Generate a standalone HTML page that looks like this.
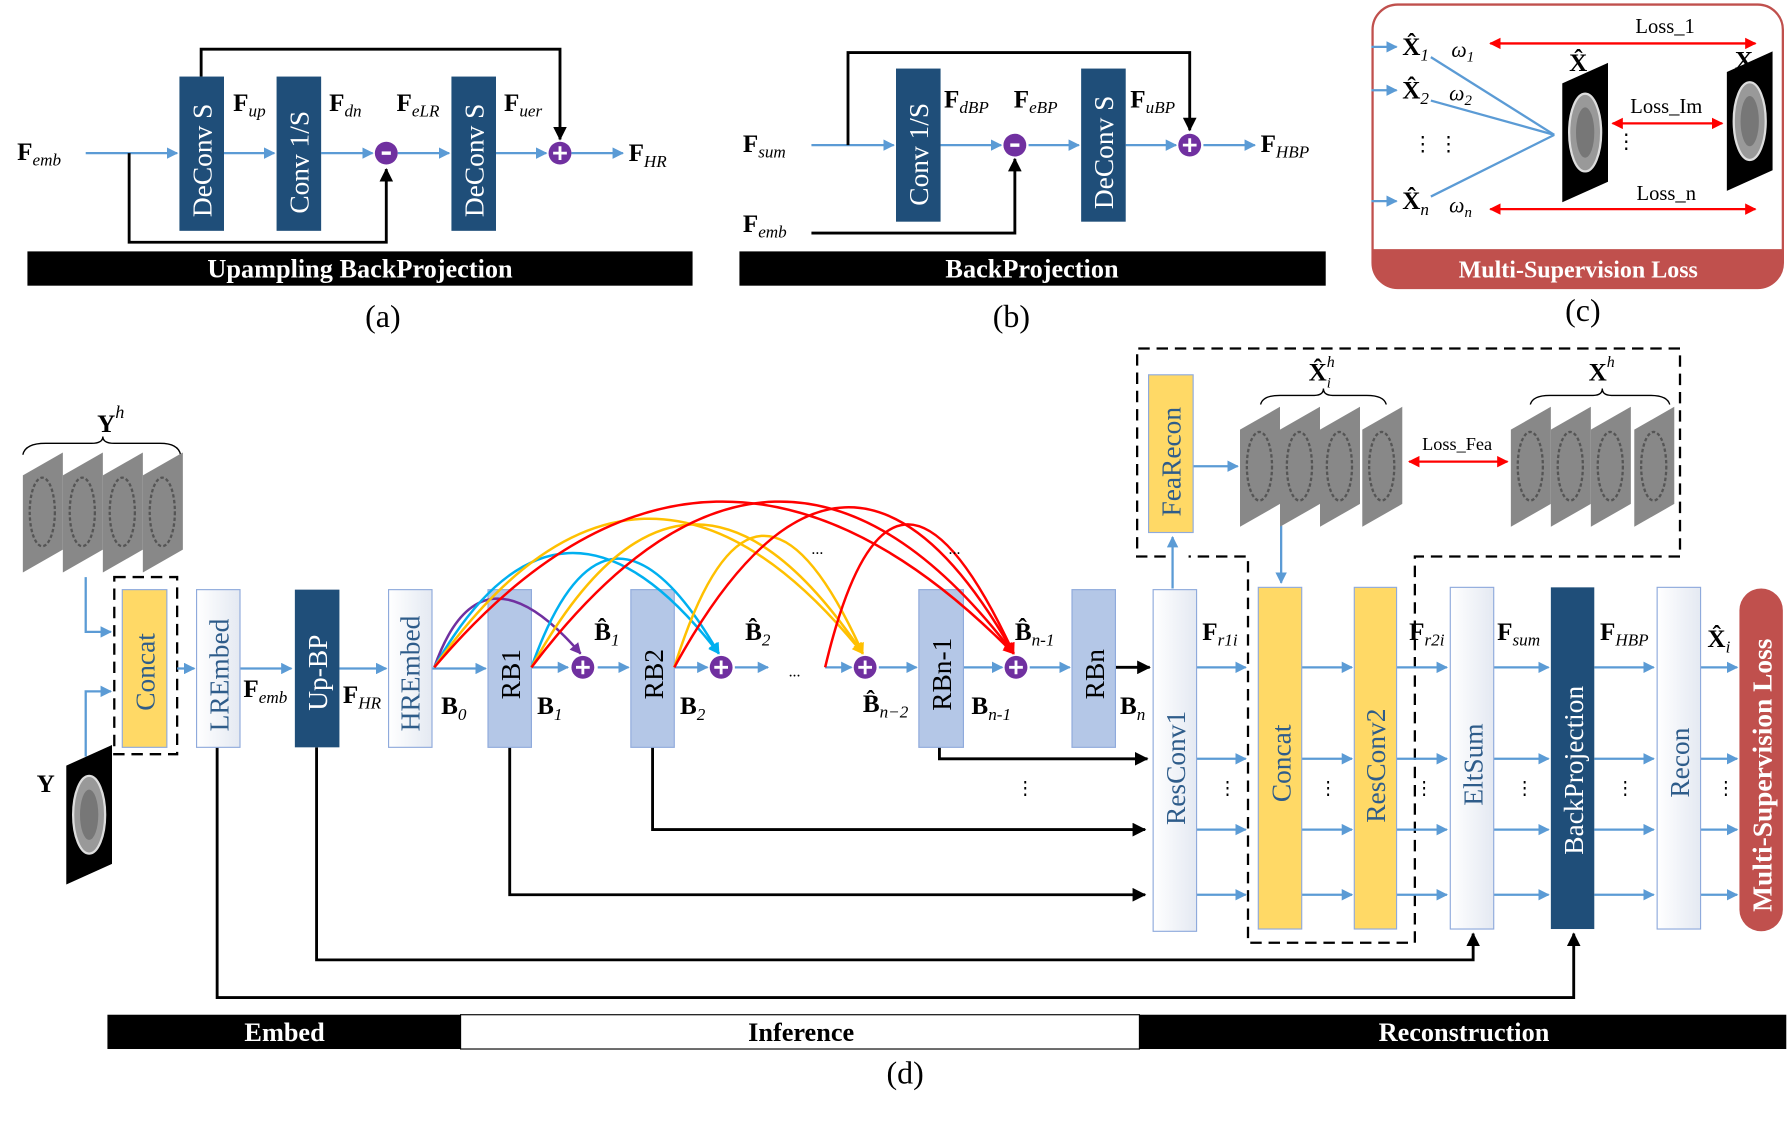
<!DOCTYPE html>
<html><head><meta charset="utf-8"><style>
html,body{margin:0;padding:0;background:#fff}
svg{display:block}
text{font-family:"Liberation Serif",serif}
.b{font-weight:bold}
.lab{font-size:22px;font-weight:bold}
.sub{font-size:15px;font-style:italic;font-weight:normal}
.bx{font-size:24px}
</style></head><body>
<svg width="1792" height="1121" viewBox="0 0 1568 981" preserveAspectRatio="none" xmlns="http://www.w3.org/2000/svg">
<defs>
<marker id="ab" markerWidth="10" markerHeight="10" refX="9" refY="5" orient="auto" markerUnits="userSpaceOnUse"><path d="M0,0L10,5L0,10z" fill="#5b9bd5"/></marker>
<marker id="ak" markerWidth="12" markerHeight="12" refX="11" refY="6" orient="auto" markerUnits="userSpaceOnUse"><path d="M0,0L12,6L0,12z" fill="#000"/></marker>
<marker id="ar" markerWidth="10" markerHeight="10" refX="9" refY="5" orient="auto-start-reverse" markerUnits="userSpaceOnUse"><path d="M0,0L10,5L0,10z" fill="#f00"/></marker>
<marker id="ap" markerWidth="10" markerHeight="10" refX="9" refY="5" orient="auto" markerUnits="userSpaceOnUse"><path d="M0,0L10,5L0,10z" fill="#7030a0"/></marker>
<marker id="ac" markerWidth="10" markerHeight="10" refX="9" refY="5" orient="auto" markerUnits="userSpaceOnUse"><path d="M0,0L10,5L0,10z" fill="#00b0f0"/></marker>
<marker id="ao" markerWidth="10" markerHeight="10" refX="9" refY="5" orient="auto" markerUnits="userSpaceOnUse"><path d="M0,0L10,5L0,10z" fill="#ffc000"/></marker>
<linearGradient id="wg" x1="0" y1="0" x2="1" y2="0"><stop offset="0" stop-color="#fff"/><stop offset="1" stop-color="#e4e9f2"/></linearGradient>
<g id="pl"><circle r="10" fill="#7030a0"/><path d="M-6,0H6M0,-6V6" stroke="#fff" stroke-width="2.5"/></g>
<g id="mi"><circle r="10" fill="#7030a0"/><path d="M-4,0H4" stroke="#fff" stroke-width="3"/></g>
<g id="gs"><path d="M0,20L35,0V85L0,105z" fill="#888"/><ellipse cx="17" cy="52" rx="11" ry="30" fill="none" stroke="#555" stroke-width="2" stroke-dasharray="3 2"/></g>
<g id="mri"><path d="M0,18L40,0V104L0,122z" fill="#000"/><ellipse cx="20" cy="61" rx="14" ry="34" fill="#999" stroke="#ddd" stroke-width="2"/><ellipse cx="20" cy="61" rx="8" ry="22" fill="#777"/></g>
</defs>

<!-- ============ (a) ============ -->
<g stroke="#5b9bd5" stroke-width="2" fill="none" marker-end="url(#ab)">
<path d="M75,134H155"/><path d="M196,134H240"/><path d="M281,134H326"/><path d="M348,134H393"/><path d="M434,134H478"/><path d="M500,134H545"/>
</g>
<path d="M113,134V212H338V148" stroke="#000" stroke-width="2.5" fill="none" marker-end="url(#ak)"/>
<path d="M176,67V43H490V122" stroke="#000" stroke-width="2.5" fill="none" marker-end="url(#ak)"/>
<rect x="157" y="67" width="39" height="135" fill="#1f4e79"/>
<rect x="242" y="67" width="39" height="135" fill="#1f4e79"/>
<rect x="395" y="67" width="39" height="135" fill="#1f4e79"/>
<text transform="translate(185,190) rotate(-90)" fill="#fff" class="bx">DeConv S</text>
<text transform="translate(270,187) rotate(-90)" fill="#fff" class="bx">Conv 1/S</text>
<text transform="translate(423,190) rotate(-90)" fill="#fff" class="bx">DeConv S</text>
<use href="#mi" x="338" y="134"/><use href="#pl" x="490" y="134"/>
<text x="15" y="140" class="lab">F<tspan class="sub" dy="5">emb</tspan></text>
<text x="204" y="97" class="lab">F<tspan class="sub" dy="5">up</tspan></text>
<text x="288" y="97" class="lab">F<tspan class="sub" dy="5">dn</tspan></text>
<text x="347" y="97" class="lab">F<tspan class="sub" dy="5">eLR</tspan></text>
<text x="441" y="97" class="lab">F<tspan class="sub" dy="5">uer</tspan></text>
<text x="550" y="141" class="lab">F<tspan class="sub" dy="5">HR</tspan></text>
<rect x="24" y="220" width="582" height="30" fill="#000"/>
<text x="315" y="243" fill="#fff" class="b" font-size="23" text-anchor="middle">Upampling BackProjection</text>
<text x="335" y="286" font-size="28" text-anchor="middle">(a)</text>

<!-- ============ (b) ============ -->
<g stroke="#5b9bd5" stroke-width="2" fill="none" marker-end="url(#ab)">
<path d="M710,127H782"/><path d="M823,127H876"/><path d="M900,127H944"/><path d="M985,127H1029"/><path d="M1053,127H1098"/>
</g>
<path d="M742,127V46H1041V114" stroke="#000" stroke-width="2.5" fill="none" marker-end="url(#ak)"/>
<path d="M710,204H888V139" stroke="#000" stroke-width="2.5" fill="none" marker-end="url(#ak)"/>
<rect x="784" y="60" width="39" height="134" fill="#1f4e79"/>
<rect x="946" y="60" width="39" height="134" fill="#1f4e79"/>
<text transform="translate(812,180) rotate(-90)" fill="#fff" class="bx">Conv 1/S</text>
<text transform="translate(974,183) rotate(-90)" fill="#fff" class="bx">DeConv S</text>
<use href="#mi" x="888" y="127"/><use href="#pl" x="1041" y="127"/>
<text x="650" y="133" class="lab">F<tspan class="sub" dy="5">sum</tspan></text>
<text x="650" y="203" class="lab">F<tspan class="sub" dy="5">emb</tspan></text>
<text x="826" y="94" class="lab">F<tspan class="sub" dy="5">dBP</tspan></text>
<text x="887" y="94" class="lab">F<tspan class="sub" dy="5">eBP</tspan></text>
<text x="989" y="94" class="lab">F<tspan class="sub" dy="5">uBP</tspan></text>
<text x="1103" y="133" class="lab">F<tspan class="sub" dy="5">HBP</tspan></text>
<rect x="647" y="220" width="513" height="30" fill="#000"/>
<text x="903" y="243" fill="#fff" class="b" font-size="23" text-anchor="middle">BackProjection</text>
<text x="885" y="286" font-size="28" text-anchor="middle">(b)</text>

<!-- ============ (c) ============ -->
<rect x="1201" y="4" width="359" height="248" rx="22" fill="#fff" stroke="#c0504d" stroke-width="2"/>
<path d="M1201,218H1560V230A22,22 0 0 1 1538,252H1223A22,22 0 0 1 1201,230z" fill="#c0504d"/>
<text x="1381" y="243" fill="#fff" class="b" font-size="21" text-anchor="middle">Multi-Supervision Loss</text>
<g stroke="#5b9bd5" stroke-width="2" fill="none" marker-end="url(#ab)">
<path d="M1200,41H1222"/><path d="M1200,79H1222"/><path d="M1200,176H1222"/>
</g>
<g stroke="#5b9bd5" stroke-width="2"><path d="M1252,50L1360,118"/><path d="M1252,88L1360,118"/><path d="M1252,172L1360,118"/></g>
<text x="1227" y="48" class="lab">X̂<tspan class="sub" dy="5" font-size="12">1</tspan></text>
<text x="1227" y="86" class="lab">X̂<tspan class="sub" dy="5" font-size="12">2</tspan></text>
<text x="1227" y="183" class="lab">X̂<tspan class="sub" dy="5" font-size="12">n</tspan></text>
<text x="1270" y="50" font-size="19" font-style="italic">ω<tspan font-size="13" dy="4">1</tspan></text>
<text x="1268" y="88" font-size="19" font-style="italic">ω<tspan font-size="13" dy="4">2</tspan></text>
<text x="1268" y="186" font-size="19" font-style="italic">ω<tspan font-size="13" dy="4">n</tspan></text>
<text x="1236" y="132" font-size="18">⋮   ⋮</text>
<use href="#mri" x="1367" y="55"/><use href="#mri" x="1511" y="45" transform="scale(1)"/>
<text x="1373" y="62" class="lab">X̂</text><text x="1518" y="60" class="lab">X</text>
<text x="1414" y="130" font-size="18">⋮</text>
<g stroke="#f00" stroke-width="2" marker-start="url(#ar)" marker-end="url(#ar)">
<path d="M1304,38H1536"/><path d="M1411,108H1507"/><path d="M1304,183H1536"/></g>
<text x="1457" y="29" font-size="18" text-anchor="middle">Loss_1</text>
<text x="1458" y="99" font-size="18" text-anchor="middle">Loss_Im</text>
<text x="1458" y="175" font-size="18" text-anchor="middle">Loss_n</text>
<text x="1385" y="281" font-size="28" text-anchor="middle">(c)</text>

<!-- ============ (d) ============ -->
<!-- dashed regions -->
<g stroke="#000" stroke-width="2" fill="none" stroke-dasharray="10 6">
<rect x="100" y="505" width="55" height="155"/>
<path d="M1020,487H995V305H1470V487H1238V825H1092V487H1040"/>
</g>
<!-- Yh stack -->
<text x="85" y="378" class="lab" font-size="28">Y<tspan font-size="16" font-style="italic" dy="-12" font-weight="normal">h</tspan></text>
<path d="M20,398Q22,388 40,388H80Q90,388 90,382Q90,388 100,388H140Q156,388 158,398" stroke="#000" fill="none" stroke-width="1.2"/>
<use href="#gs" x="20" y="396"/><use href="#gs" x="55" y="396"/><use href="#gs" x="90" y="396"/><use href="#gs" x="125" y="396"/>
<text x="32" y="693" class="lab" font-size="28">Y</text>
<use href="#mri" x="58" y="652"/>
<g stroke="#5b9bd5" stroke-width="2" fill="none" marker-end="url(#ab)">
<path d="M75,505V553H97"/><path d="M75,662V605H97"/>
<path d="M155,585H170"/><path d="M210,585H255"/><path d="M297,585H338"/><path d="M378,585H425"/>
<path d="M465,584H497"/><path d="M523,584H550"/><path d="M590,584H619"/><path d="M643,584H672"/>
<path d="M722,584H745"/><path d="M769,584H802"/><path d="M843,584H877"/><path d="M901,584H936"/>
<path d="M1026,515V470"/><path d="M1044,408H1083"/><path d="M1121,460V510"/>
</g>
<g stroke="#5b9bd5" stroke-width="2" fill="none" marker-end="url(#ab)">
<path d="M1047,584H1090"/><path d="M1139,584H1183"/><path d="M1222,584H1266"/><path d="M1307,584H1355"/><path d="M1395,584H1447"/><path d="M1488,584H1520"/>
<path d="M1047,664H1090"/><path d="M1139,664H1183"/><path d="M1222,664H1266"/><path d="M1307,664H1355"/><path d="M1395,664H1447"/><path d="M1488,664H1520"/>
<path d="M1047,726H1090"/><path d="M1139,726H1183"/><path d="M1222,726H1266"/><path d="M1307,726H1355"/><path d="M1395,726H1447"/><path d="M1488,726H1520"/>
<path d="M1047,783H1090"/><path d="M1139,783H1183"/><path d="M1222,783H1266"/><path d="M1307,783H1355"/><path d="M1395,783H1447"/><path d="M1488,783H1520"/>
</g>
<g font-size="16"><text x="1066" y="695">⋮</text><text x="1154" y="695">⋮</text><text x="1238" y="695">⋮</text><text x="1326" y="695">⋮</text><text x="1414" y="695">⋮</text><text x="1502" y="695">⋮</text><text x="889" y="695">⋮</text></g>
<!-- black skip lines -->
<g stroke="#000" stroke-width="2.5" fill="none" marker-end="url(#ak)">
<path d="M976,584H1006"/>
<path d="M822,654V664H1004"/><path d="M571,654V726H1002"/><path d="M446,654V783H1002"/>
<path d="M277,654V840H1289V817"/><path d="M190,654V873H1377V817"/>
</g>
<!-- boxes -->
<rect x="107" y="516" width="39" height="138" fill="#ffd966" stroke="#8faadc"/>
<rect x="172" y="516" width="38" height="138" fill="url(#wg)" stroke="#8faadc"/>
<rect x="258" y="516" width="39" height="138" fill="#1f4e79"/>
<rect x="340" y="516" width="38" height="138" fill="url(#wg)" stroke="#8faadc"/>
<rect x="427" y="516" width="38" height="138" fill="#b4c7e7" stroke="#8faadc"/>
<rect x="552" y="516" width="38" height="138" fill="#b4c7e7" stroke="#8faadc"/>
<rect x="804" y="516" width="39" height="138" fill="#b4c7e7" stroke="#8faadc"/>
<rect x="938" y="516" width="38" height="138" fill="#b4c7e7" stroke="#8faadc"/>
<rect x="1009" y="516" width="38" height="299" fill="url(#wg)" stroke="#8faadc"/>
<rect x="1005" y="328" width="39" height="138" fill="#ffd966" stroke="#8faadc"/>
<rect x="1101" y="514" width="38" height="299" fill="#ffd966" stroke="#8faadc"/>
<rect x="1185" y="514" width="37" height="299" fill="#ffd966" stroke="#8faadc"/>
<rect x="1269" y="514" width="38" height="299" fill="url(#wg)" stroke="#8faadc"/>
<rect x="1357" y="514" width="38" height="299" fill="#1f4e79"/>
<rect x="1450" y="514" width="38" height="299" fill="url(#wg)" stroke="#8faadc"/>
<rect x="1522" y="515" width="38" height="300" rx="19" fill="#c0504d"/>
<g class="bx" fill="#2e5c8a">
<text transform="translate(135,622) rotate(-90)">Concat</text>
<text transform="translate(200,640) rotate(-90)">LREmbed</text>
<text transform="translate(367,640) rotate(-90)">HREmbed</text>
<text transform="translate(1037,722) rotate(-90)">ResConv1</text>
<text transform="translate(1033,452) rotate(-90)">FeaRecon</text>
<text transform="translate(1129,702) rotate(-90)">Concat</text>
<text transform="translate(1212,720) rotate(-90)">ResConv2</text>
<text transform="translate(1297,705) rotate(-90)">EltSum</text>
<text transform="translate(1478,698) rotate(-90)">Recon</text>
</g>
<text transform="translate(286,622) rotate(-90)" class="bx" fill="#fff">Up-BP</text>
<text transform="translate(1385,748) rotate(-90)" class="bx" fill="#fff">BackProjection</text>
<text transform="translate(1550,798) rotate(-90)" class="bx b" fill="#fff">Multi-Supervision Loss</text>
<g class="bx" fill="#000">
<text transform="translate(455,612) rotate(-90)">RB1</text>
<text transform="translate(580,612) rotate(-90)">RB2</text>
<text transform="translate(832,622) rotate(-90)">RBn-1</text>
<text transform="translate(966,612) rotate(-90)">RBn</text>
</g>
<!-- curves -->
<g fill="none" stroke-width="2.2">
<path d="M380,584Q420,470 508,572" stroke="#7030a0" marker-end="url(#ap)"/>
<path d="M380,584Q490,390 629,572" stroke="#00b0f0" marker-end="url(#ac)"/>
<path d="M465,584Q530,400 629,572" stroke="#00b0f0" marker-end="url(#ac)"/>
<path d="M380,584Q560,330 755,572" stroke="#ffc000" marker-end="url(#ao)"/>
<path d="M465,584Q600,340 755,572" stroke="#ffc000" marker-end="url(#ao)"/>
<path d="M590,584Q660,360 755,572" stroke="#ffc000" marker-end="url(#ao)"/>
<path d="M380,584Q620,300 887,572" stroke="#f00" marker-end="url(#ar)"/>
<path d="M465,584Q680,300 887,572" stroke="#f00" marker-end="url(#ar)"/>
<path d="M590,584Q740,310 887,572" stroke="#f00" marker-end="url(#ar)"/>
<path d="M722,584Q780,340 887,572" stroke="#f00" marker-end="url(#ar)"/>
</g>
<text x="710" y="485" font-size="14">...</text><text x="830" y="485" font-size="14">...</text>
<text x="690" y="592" font-size="14">...</text>
<use href="#pl" x="510" y="584"/><use href="#pl" x="631" y="584"/><use href="#pl" x="757" y="584"/><use href="#pl" x="889" y="584"/>
<!-- labels -->
<text x="213" y="610" class="lab">F<tspan class="sub" dy="5">emb</tspan></text>
<text x="300" y="615" class="lab">F<tspan class="sub" dy="5">HR</tspan></text>
<text x="386" y="625" class="lab">B<tspan class="sub" dy="5">0</tspan></text>
<text x="470" y="625" class="lab">B<tspan class="sub" dy="5">1</tspan></text>
<text x="595" y="625" class="lab">B<tspan class="sub" dy="5">2</tspan></text>
<text x="850" y="625" class="lab">B<tspan class="sub" dy="5">n-1</tspan></text>
<text x="980" y="625" class="lab">B<tspan class="sub" dy="5">n</tspan></text>
<text x="520" y="560" class="lab">B̂<tspan class="sub" dy="5">1</tspan></text>
<text x="652" y="560" class="lab">B̂<tspan class="sub" dy="5">2</tspan></text>
<text x="755" y="623" class="lab">B̂<tspan class="sub" dy="5">n−2</tspan></text>
<text x="888" y="560" class="lab">B̂<tspan class="sub" dy="5">n-1</tspan></text>
<text x="1052" y="560" class="lab">F<tspan class="sub" dy="5">r1i</tspan></text>
<text x="1233" y="560" class="lab">F<tspan class="sub" dy="5">r2i</tspan></text>
<text x="1310" y="560" class="lab">F<tspan class="sub" dy="5">sum</tspan></text>
<text x="1400" y="560" class="lab">F<tspan class="sub" dy="5">HBP</tspan></text>
<text x="1494" y="566" class="lab">X̂<tspan class="sub" dy="5" font-size="12">i</tspan></text>
<!-- feature stacks -->
<text x="1145" y="333" class="lab" font-size="26">X̂<tspan font-size="14" font-style="italic" font-weight="normal" dy="-12">h</tspan><tspan font-size="13" font-style="italic" font-weight="normal" dx="-7" dy="18">i</tspan></text>
<path d="M1103,354Q1105,346 1120,346H1150Q1158,346 1158,340Q1158,346 1166,346H1196Q1211,346 1213,354" stroke="#000" fill="none" stroke-width="1.2"/>
<use href="#gs" x="1085" y="356"/><use href="#gs" x="1120" y="356"/><use href="#gs" x="1155" y="356"/><use href="#gs" x="1192" y="356"/>
<text x="1390" y="333" class="lab" font-size="26">X<tspan font-size="14" font-style="italic" font-weight="normal" dy="-12">h</tspan></text>
<path d="M1339,354Q1341,346 1356,346H1394Q1402,346 1402,340Q1402,346 1410,346H1444Q1459,346 1461,354" stroke="#000" fill="none" stroke-width="1.2"/>
<use href="#gs" x="1322" y="356"/><use href="#gs" x="1357" y="356"/><use href="#gs" x="1392" y="356"/><use href="#gs" x="1430" y="356"/>
<path d="M1233,404H1319" stroke="#f00" stroke-width="2" marker-start="url(#ar)" marker-end="url(#ar)"/>
<text x="1275" y="394" font-size="16" text-anchor="middle">Loss_Fea</text>
<!-- bottom bar -->
<rect x="94" y="888" width="309" height="30" fill="#000"/>
<rect x="403" y="888" width="594" height="30" fill="#fff" stroke="#000"/>
<rect x="997" y="888" width="566" height="30" fill="#000"/>
<text x="249" y="911" fill="#fff" class="b" font-size="23" text-anchor="middle">Embed</text>
<text x="701" y="911" fill="#000" class="b" font-size="23" text-anchor="middle">Inference</text>
<text x="1281" y="911" fill="#fff" class="b" font-size="23" text-anchor="middle">Reconstruction</text>
<text x="792" y="948" font-size="28" text-anchor="middle">(d)</text>
</svg>
</body></html>
